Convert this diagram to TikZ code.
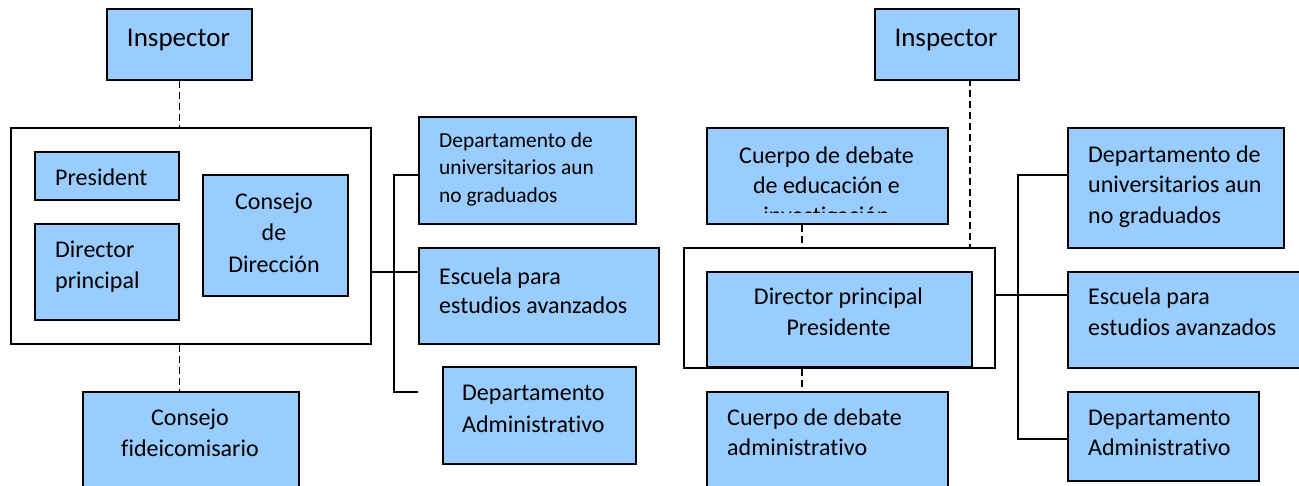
\documentclass[tikz,border=0pt]{standalone}
\usepackage{fontspec}
\setmainfont{Carlito}[Ligatures=NoCommon]
\definecolor{boxblue}{HTML}{99CCFF}
\tikzset{
  box/.style={draw=black, line width=1.9pt, fill=boxblue, inner sep=0pt, anchor=north west},
  frame/.style={draw=black, line width=1.9pt, inner sep=0pt, anchor=north west},
  txt/.style={inner sep=0pt, font=\fontsize{24}{30}\selectfont},
  bigtxt/.style={inner sep=0pt, font=\fontsize{27}{32}\selectfont},
  smalltxt/.style={inner sep=0pt, font=\fontsize{21.4}{27.5}\selectfont},
  conn/.style={draw=black, line width=1.5pt},
  dashconn/.style={draw=black, line width=1.6pt, dash pattern=on 7pt off 4pt},
}
\begin{document}
\begin{tikzpicture}[x=1pt,y=-1pt]
\useasboundingbox (0,0) rectangle (1299,485);
\clip (0,0) rectangle (1299,485);
% ---------- left chart ----------
\node[box, minimum width=145pt, minimum height=71pt] (InspL) at (106,8) {};
\node[frame, minimum width=360pt, minimum height=216pt] (bigL) at (10,127) {};
\node[box, minimum width=144pt, minimum height=48pt] (Pres) at (34,151) {};
\node[box, minimum width=144pt, minimum height=96pt] (DirP) at (34,223) {};
\node[box, minimum width=145pt, minimum height=121pt] (Cons) at (202,174) {};
\node[box, minimum width=216pt, minimum height=110pt] (ConsFid) at (82,391) {};
\node[box, minimum width=217pt, minimum height=107pt] (DUL) at (418,116) {};
\node[box, minimum width=240pt, minimum height=96pt] (EscL) at (418,247) {};
\node[box, minimum width=193pt, minimum height=97pt] (DAL) at (442,366) {};

\node[bigtxt, anchor=base] (tInspL) at (178.5,46) {Inspector};
\node[txt, anchor=base west] (tPres) at (55,185) {President};
\node[txt, anchor=base west, align=left, font=\fontsize{24}{31}\selectfont] (tDirP) at (55,288) {Director\\principal};
\node[txt, anchor=base, align=center, font=\fontsize{24}{31.5}\selectfont] (tCons) at (274,272) {Consejo\\de\\Dirección};
\node[txt, anchor=base, align=center, font=\fontsize{24}{31}\selectfont] (tConsFid) at (190,456) {Consejo\\fideicomisario};
\node[smalltxt, anchor=base west, align=left] (tDUL) at (439,202) {Departamento de\\universitarios aun\\no graduados};
\node[txt, anchor=base west, align=left, font=\fontsize{24}{29}\selectfont] (tEscL) at (439,313) {Escuela para\\estudios avanzados};
\node[txt, anchor=base west, align=left, font=\fontsize{24}{32}\selectfont] (tDAL) at (462,432) {Departamento\\Administrativo};

\coordinate (jL) at (394,272);
\coordinate (vL1) at (394,175);
\coordinate (vL2) at (394,392);
\coordinate (eL2) at (418,392);
\draw[conn] (bigL.east |- jL) -- (EscL.west |- jL);
\draw[conn] (DUL.west |- vL1) -- (vL1) -- (vL2) -- (eL2);
\draw[dashconn] (InspL.south) -- (InspL.south |- bigL.north);
\draw[dashconn] (bigL.south -| InspL.south) -- (ConsFid.north -| InspL.south);

% ---------- right chart ----------
\node[box, minimum width=144pt, minimum height=71pt] (InspR) at (874,8) {};
\node[box, minimum width=241pt, minimum height=96pt] (CEd) at (706,127) {};
\node[frame, minimum width=311pt, minimum height=120pt] (bigR) at (683,247) {};
\node[box, minimum width=265pt, minimum height=95pt] (DPP) at (706,271) {};
\node[box, minimum width=241pt, minimum height=110pt] (CAdm) at (706,391) {};
\node[box, minimum width=216pt, minimum height=120pt] (DUR) at (1067,127) {};
\node[box, minimum width=253pt, minimum height=96pt] (EscR) at (1067,271) {};
\node[box, minimum width=191pt, minimum height=89pt] (DAR) at (1067,391) {};

\node[bigtxt, anchor=base] (tInspR) at (946,46) {Inspector};
\begin{scope}
  \clip (706,127) rectangle (947,212);
  \node[txt, anchor=base, align=center] (tCEd) at (826.5,223) {Cuerpo de debate\\de educación e\\investigación};
\end{scope}
\node[txt, anchor=base, align=center, font=\fontsize{24}{31}\selectfont] (tDPP) at (838.5,335) {Director principal\\Presidente};
\node[txt, anchor=base west, align=left] (tCAdm) at (727,455) {Cuerpo de debate\\administrativo};
\node[txt, anchor=base west, align=left, font=\fontsize{24}{30.5}\selectfont] (tDUR) at (1088,223) {Departamento de\\universitarios aun\\no graduados};
\node[txt, anchor=base west, align=left, font=\fontsize{24}{31}\selectfont] (tEscR) at (1088,335) {Escuela para\\estudios avanzados};
\node[txt, anchor=base west, align=left] (tDAR) at (1088,455) {Departamento\\Administrativo};

\coordinate (jR) at (1018,295);
\coordinate (vR1) at (1018,175);
\coordinate (vR2) at (1018,439);
\draw[conn] (bigR.east |- jR) -- (EscR.west |- jR);
\draw[conn] (DUR.west |- vR1) -- (vR1) -- (vR2) -- (DAR.west |- vR2);
\coordinate (dR) at (970,79);
\coordinate (dC) at (802,0);
\draw[dashconn] (dR) -- (dR |- bigR.north);
\draw[dashconn] (CEd.south -| dC) -- (bigR.north -| dC);
\draw[dashconn] (bigR.south -| dC) -- (CAdm.north -| dC);
\end{tikzpicture}
\end{document}
